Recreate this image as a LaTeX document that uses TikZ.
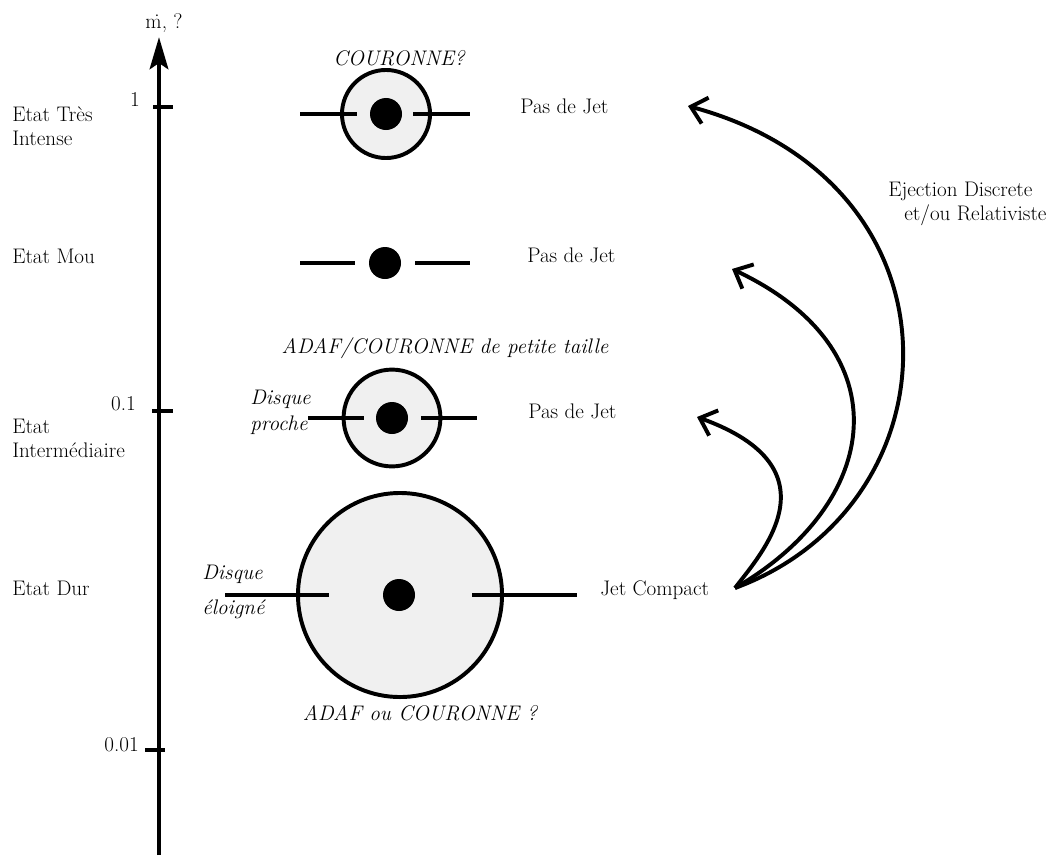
\documentclass[tikz,border=0pt]{standalone}
\usetikzlibrary{arrows.meta}
\tikzstyle{ejarrow} = [line width=2.8pt, -{Straight Barb[length=3.7mm, width=6.7mm]}]
\tikzstyle{zone} = [draw, circle, line width=2.8pt, fill=black!6, inner sep=0pt]
\tikzstyle{hole} = [circle, fill=black, minimum size=0.8cm, inner sep=0pt]
\tikzstyle{disc} = [line width=2.8pt]
\tikzstyle{tick} = [line width=3.5pt]
\tikzstyle{lbl} = [font=\fontsize{15}{16.4}\selectfont, inner sep=0pt]
\tikzstyle{ilbl} = [font=\fontsize{15}{16.4}\selectfont\itshape, inner sep=0pt]

\begin{document}
\begin{tikzpicture}[x=0.025cm, y=-0.025cm]
    \useasboundingbox (0,0) rectangle (1056,855);

    % Axis
    \coordinate (bot) at (159,855);
    \coordinate (top) at (159,37);
    \draw[line width=3.5pt, -{Stealth[length=8mm, width=4.6mm, inset=1.5mm]}] (bot) -- (top);
    \node[lbl, anchor=base] (mdot) at (164,28) {\.{m}, ?};
    \draw[tick] (153,107) -- (173,107);
    \draw[tick] (152,411) -- (173,411);
    \draw[tick] (145,750) -- (165,750);
    \node[lbl, anchor=base east] (t1) at (140,106) {1};
    \node[lbl, anchor=base east] (t01) at (136,410) {0.1};
    \node[lbl, anchor=base east] (t001) at (139,751) {0.01};

    % States
    \node[lbl, anchor=base west, align=left] (tres) at (12,145) {Etat Très\\Intense};
    \node[lbl, anchor=base west] (mou) at (12,263) {Etat Mou};
    \node[lbl, anchor=base west, align=left] (inter) at (12,457) {Etat\\Intermédiaire};
    \node[lbl, anchor=base west] (dur) at (12,595) {Etat Dur};

    % Very intense state
    \node[zone, minimum size=2.2cm] (cour1) at (386,114) {};
    \node[hole] (bh1) at (386,114) {};
    \draw[disc] (300,114) -- (357,114);
    \draw[disc] (413,114) -- (470,114);
    \node[ilbl, anchor=base] (lcour1) at (399,65) {COURONNE?};
    \node[lbl, anchor=base west] (jet1) at (520,113) {Pas de Jet};

    % Soft state
    \node[hole] (bh2) at (385,263) {};
    \draw[disc] (300,263) -- (355,263);
    \draw[disc] (415,263) -- (470,263);
    \node[lbl, anchor=base west] (jet2) at (527,262) {Pas de Jet};

    % Intermediate state
    \node[zone, minimum size=2.42cm] (cour3) at (392,418) {};
    \node[hole] (bh3) at (392,418) {};
    \draw[disc] (308,418) -- (364,418);
    \draw[disc] (421,418) -- (477,418);
    \node[ilbl, anchor=base] (lcour3) at (445,353) {ADAF/COURONNE de petite taille};
    \node[ilbl, anchor=base west, align=left] (dproche) at (250,430) {Disque\\[0.07cm]proche};
    \node[lbl, anchor=base west] (jet3) at (528,418) {Pas de Jet};

    % Hard state
    \node[zone, minimum size=5.1cm] (cour4) at (400,595) {};
    \node[hole] (bh4) at (399,595) {};
    \draw[disc] (225,595) -- (329,595);
    \draw[disc] (472,595) -- (577,595);
    \node[ilbl, anchor=base west, align=left] (dloin) at (202,614) {Disque\\[0.28cm]éloigné};
    \node[ilbl, anchor=base] (lcour4) at (420,720) {ADAF ou COURONNE ?};
    \node[lbl, anchor=base west] (jet4) at (600,595) {Jet Compact};

    % Ejections
    \node[lbl, anchor=base west, align=left] (eject) at (888,220) {Ejection Discrete\\\hspace*{0.4cm}et/ou Relativiste};
    \coordinate (js) at (735,588);
    \coordinate (e1) at (688,106);
    \coordinate (e2) at (732,269);
    \coordinate (e3) at (697,417);
    \draw[ejarrow] (js) .. controls (960,505) and (972,183) .. (e1);
    \draw[ejarrow] (js) .. controls (882,503) and (904,350) .. (e2);
    \draw[ejarrow] (js) .. controls (759,556) and (841,469) .. (e3);
\end{tikzpicture}
\end{document}
